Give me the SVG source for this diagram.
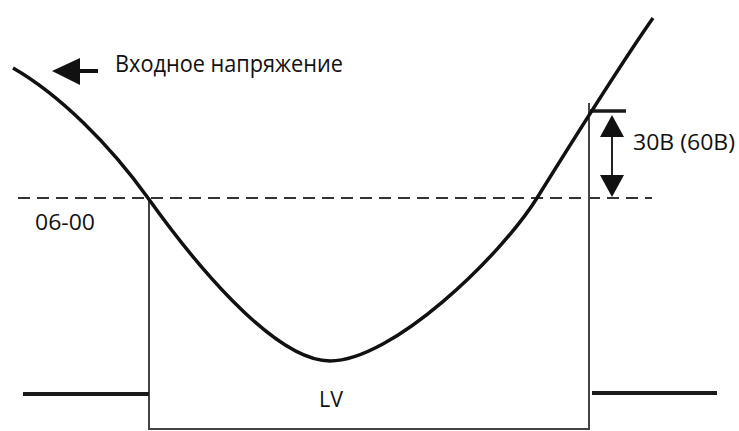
<svg xmlns="http://www.w3.org/2000/svg" width="739" height="431" viewBox="0 0 739 431">
<style>
.t{font-family:"Open Sans","Liberation Sans",sans-serif;fill:#111}
.thin{stroke:#444;stroke-width:2;fill:none}
.thick{stroke:#1a1a1a;stroke-width:4;fill:none}
.dash{stroke:#333;stroke-width:2;stroke-dasharray:12 7;fill:none}
</style>
<rect width="739" height="431" fill="#fff"/>
<g id="connectors">
<line class="dash" x1="18" y1="198" x2="652" y2="198"/>
<polyline class="thin" points="149,198 149,429 589,429 589,103"/>
<line class="thick" x1="23" y1="394" x2="149" y2="394"/>
<line class="thick" x1="592" y1="393" x2="717" y2="393"/>
<line class="thick" x1="590" y1="111" x2="626" y2="111" style="stroke-width:3.5"/>
<line x1="612" y1="130" x2="612" y2="182" stroke="#222" stroke-width="2"/>
<polygon points="612,115 624,137 600,137" fill="#111"/>
<polygon points="612,197 624,175 600,175" fill="#111"/>
<line x1="76" y1="71" x2="98" y2="71" stroke="#111" stroke-width="4"/>
<polygon points="52,71 80,58 80,85" fill="#111"/>
</g>
<g id="curve">
<path d="M13,68 C60,95 110,145 148,198 C188,254 272,361 330,361 C392,361 500,257 537,198 C575,137 620,65 653,18" stroke="#111" stroke-width="3.5" fill="none"/>
</g>
<g id="labels">
<text class="t" x="115" y="72" font-size="23" textLength="228" lengthAdjust="spacingAndGlyphs">Входное напряжение</text>
<text class="t" x="633" y="150" font-size="21" textLength="102" lengthAdjust="spacingAndGlyphs">30В (60В)</text>
<text class="t" x="35" y="230" font-size="21" textLength="60" lengthAdjust="spacingAndGlyphs">06-00</text>
<text class="t" x="319" y="407" font-size="21" textLength="24" lengthAdjust="spacingAndGlyphs">LV</text>
</g>
</svg>
